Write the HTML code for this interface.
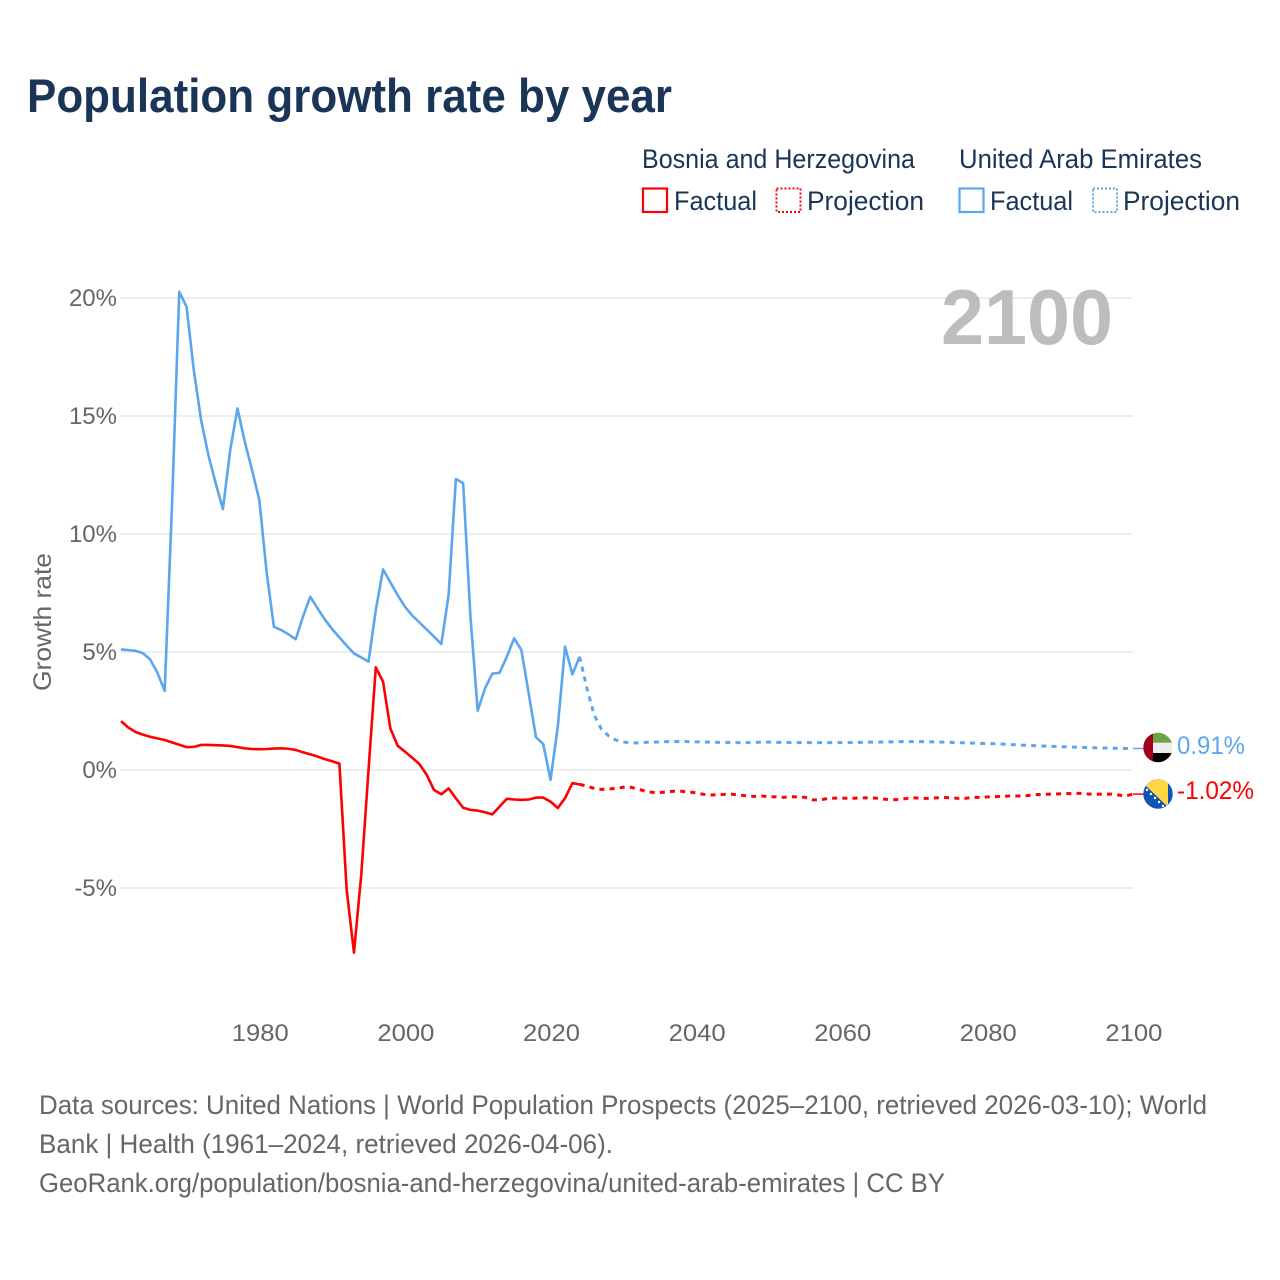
<!DOCTYPE html>
<html lang="en">
<head>
<meta charset="utf-8">
<title>Population growth rate by year</title>
<style>
html,body{margin:0;padding:0;background:#fff;}
svg{display:block;}
text{font-family:"Liberation Sans",sans-serif;}
</style>
</head>
<body>
<svg id="chart" width="1280" height="1280" viewBox="0 0 1280 1280" xmlns="http://www.w3.org/2000/svg">
  <rect x="0" y="0" width="1280" height="1280" fill="#fff"/>
  <text x="27" y="112" font-size="47" font-weight="700" fill="#1a3557" textLength="645" lengthAdjust="spacingAndGlyphs">Population growth rate by year</text>

  <g font-size="27" fill="#1a3557">
    <text x="642" y="168" textLength="273" lengthAdjust="spacingAndGlyphs">Bosnia and Herzegovina</text>
    <text x="959" y="168" textLength="243" lengthAdjust="spacingAndGlyphs">United Arab Emirates</text>
    <rect x="643" y="188.5" width="24" height="23.5" fill="none" stroke="#ff0000" stroke-width="2.2"/>
    <text x="674" y="210" textLength="83" lengthAdjust="spacingAndGlyphs">Factual</text>
    <rect x="776.5" y="188.5" width="24" height="23.5" fill="none" stroke="#ff0000" stroke-width="2" stroke-dasharray="2 2"/>
    <text x="807" y="210" textLength="117" lengthAdjust="spacingAndGlyphs">Projection</text>
    <rect x="959.5" y="188.5" width="24" height="23.5" fill="none" stroke="#5ca6ee" stroke-width="2.2"/>
    <text x="990" y="210" textLength="83" lengthAdjust="spacingAndGlyphs">Factual</text>
    <rect x="1093" y="188.5" width="24" height="23.5" fill="none" stroke="#5ca6ee" stroke-width="2" stroke-dasharray="2 2"/>
    <text x="1123" y="210" textLength="117" lengthAdjust="spacingAndGlyphs">Projection</text>
  </g>

  <g id="grid"></g>
  <g id="yticks"></g>
  <g id="xticks"></g>
  <text transform="translate(51,622) rotate(-90)" text-anchor="middle" font-size="25" fill="#666" textLength="138" lengthAdjust="spacingAndGlyphs">Growth rate</text>
  <text x="941" y="344" font-size="78" font-weight="700" fill="#bdbdbd" textLength="172" lengthAdjust="spacingAndGlyphs">2100</text>
  <g id="series"></g>

  <defs>
    <clipPath id="uae-clip"><circle cx="1158" cy="747.5" r="14.7"/></clipPath>
    <clipPath id="bih-clip"><circle cx="1158" cy="794" r="14.7"/></clipPath>
  </defs>
  <g clip-path="url(#uae-clip)">
    <rect x="1143" y="732" width="30" height="11" fill="#6da544"/>
    <rect x="1143" y="742.7" width="30" height="10.3" fill="#eeeeee"/>
    <rect x="1143" y="753" width="30" height="10" fill="#000000"/>
    <rect x="1143" y="732" width="10" height="31" fill="#a2001d"/>
  </g>
  <g clip-path="url(#bih-clip)">
    <rect x="1143" y="779" width="30" height="30" fill="#0f55b5"/>
    <polygon points="1145,785 1168,807 1168,778 1145,778" fill="#ffd644"/>
    <g fill="#fff">
      <circle cx="1147" cy="790" r="1.2"/>
      <circle cx="1151" cy="794" r="1.2"/>
      <circle cx="1155" cy="798" r="1.2"/>
      <circle cx="1159" cy="802" r="1.2"/>
      <circle cx="1163" cy="806" r="1.2"/>
    </g>
  </g>
  <text id="uae-value" x="1177" y="754" font-size="25" fill="#5ca6ee" textLength="68" lengthAdjust="spacingAndGlyphs">0.91%</text>
  <text id="bih-value" x="1177" y="799" font-size="25" fill="#ff0000" textLength="77" lengthAdjust="spacingAndGlyphs">-1.02%</text>

  <g font-size="26.5" fill="#666">
    <text x="39" y="1114" textLength="1168" lengthAdjust="spacingAndGlyphs">Data sources: United Nations | World Population Prospects (2025–2100, retrieved 2026-03-10); World</text>
    <text x="39" y="1153" textLength="574" lengthAdjust="spacingAndGlyphs">Bank | Health (1961–2024, retrieved 2026-04-06).</text>
    <text x="39" y="1192" textLength="906" lengthAdjust="spacingAndGlyphs">GeoRank.org/population/bosnia-and-herzegovina/united-arab-emirates | CC BY</text>
  </g>
</svg>
<script>
var factualStartYear = 1961;
var projectionStartYear = 2024;
var xTickYears = [1980, 2000, 2020, 2040, 2060, 2080, 2100];
var yTickValues = [20, 15, 10, 5, 0, -5];
var yTickLabels = ["20%", "15%", "10%", "5%", "0%", "-5%"];

var uaeFactual = [5.11,5.08,5.05,4.95,4.69,4.12,3.35,11.16,20.27,19.63,16.95,14.83,13.35,12.15,11.05,13.56,15.32,13.91,12.71,11.44,8.40,6.07,5.93,5.75,5.54,6.50,7.34,6.85,6.38,5.97,5.62,5.27,4.94,4.77,4.59,6.78,8.50,7.95,7.41,6.92,6.55,6.25,5.95,5.65,5.34,7.41,12.33,12.15,6.50,2.51,3.46,4.08,4.12,4.80,5.58,5.08,3.25,1.39,1.10,-0.42,1.84,5.23,4.05,4.80];
var uaeProjection = [4.80,3.46,2.33,1.72,1.44,1.27,1.19,1.14,1.15,1.17,1.18,1.19,1.20,1.20,1.21,1.20,1.19,1.19,1.18,1.17,1.17,1.16,1.16,1.16,1.17,1.18,1.18,1.17,1.17,1.16,1.16,1.16,1.16,1.16,1.16,1.16,1.16,1.16,1.17,1.17,1.18,1.18,1.19,1.19,1.20,1.20,1.20,1.20,1.19,1.19,1.18,1.17,1.16,1.15,1.14,1.13,1.12,1.11,1.10,1.08,1.07,1.05,1.04,1.02,1.01,1.00,0.99,0.98,0.97,0.96,0.95,0.94,0.93,0.92,0.92,0.91,0.91];
var bosniaFactual = [2.07,1.80,1.61,1.50,1.41,1.34,1.27,1.17,1.07,0.97,0.98,1.06,1.06,1.05,1.04,1.02,0.97,0.92,0.89,0.88,0.89,0.91,0.92,0.90,0.85,0.75,0.66,0.57,0.46,0.37,0.27,-5.08,-7.74,-4.45,0.00,4.35,3.74,1.76,1.03,0.78,0.52,0.25,-0.21,-0.85,-1.03,-0.78,-1.20,-1.60,-1.69,-1.72,-1.79,-1.88,-1.55,-1.22,-1.25,-1.27,-1.25,-1.17,-1.17,-1.34,-1.61,-1.19,-0.56,-0.61];
var bosniaProjection = [-0.61,-0.68,-0.78,-0.82,-0.81,-0.78,-0.73,-0.73,-0.81,-0.89,-0.95,-0.96,-0.92,-0.90,-0.90,-0.93,-0.97,-1.03,-1.06,-1.05,-1.03,-1.03,-1.06,-1.10,-1.12,-1.10,-1.13,-1.14,-1.16,-1.13,-1.14,-1.16,-1.26,-1.27,-1.21,-1.19,-1.19,-1.20,-1.19,-1.18,-1.18,-1.20,-1.24,-1.26,-1.25,-1.20,-1.18,-1.20,-1.20,-1.18,-1.16,-1.18,-1.20,-1.20,-1.16,-1.16,-1.14,-1.13,-1.12,-1.10,-1.10,-1.10,-1.07,-1.04,-1.03,-1.02,-1.01,-1.00,-0.99,-0.99,-1.02,-1.03,-1.02,-1.02,-1.06,-1.10,-1.02];

var NS = "http://www.w3.org/2000/svg";
function xScale(year) { return 121 + (year - 1961) * 7.28; }
function yScale(value) { return 770 - value * 23.6; }

function linePath(startYear, values) {
  var d = "";
  for (var i = 0; i < values.length; i++) {
    d += (i === 0 ? "M" : "L") + xScale(startYear + i).toFixed(2) + " " + yScale(values[i]).toFixed(2);
  }
  return d;
}

function addLine(values, startYear, color, dashed, name) {
  var p = document.createElementNS(NS, "path");
  
  
  p.setAttribute("d", linePath(startYear, values));
  p.setAttribute("fill", "none");
  p.setAttribute("stroke", color);
  p.setAttribute("stroke-width", dashed ? "3" : "2.6");
  p.setAttribute("stroke-linejoin", "round");
  if (dashed) { p.setAttribute("stroke-dasharray", "5 5.2"); }
  document.getElementById("series").appendChild(p);
}

function addConnector(values, color, name) {
  var last = values[values.length - 1];
  var c = document.createElementNS(NS, "line");
  
  
  c.setAttribute("x1", xScale(2100));
  c.setAttribute("x2", 1146);
  c.setAttribute("y1", yScale(last));
  c.setAttribute("y2", yScale(last));
  c.setAttribute("stroke", color);
  c.setAttribute("stroke-width", "1.5");
  document.getElementById("series").appendChild(c);
}

yTickValues.forEach(function (v, i) {
  var g = document.createElementNS(NS, "line");
  
  
  g.setAttribute("x1", 120);
  g.setAttribute("x2", 1133);
  g.setAttribute("y1", yScale(v));
  g.setAttribute("y2", yScale(v));
  g.setAttribute("stroke", "#eeeeee");
  g.setAttribute("stroke-width", "2");
  document.getElementById("grid").appendChild(g);

  var t = document.createElementNS(NS, "text");
  
  
  t.setAttribute("x", 117);
  t.setAttribute("y", yScale(v) + 8);
  t.setAttribute("text-anchor", "end");
  t.setAttribute("font-size", "24");
  t.setAttribute("fill", "#666");
  t.textContent = yTickLabels[i];
  document.getElementById("yticks").appendChild(t);
});

xTickYears.forEach(function (yr) {
  var t = document.createElementNS(NS, "text");
  
  
  t.setAttribute("x", xScale(yr) + 1);
  t.setAttribute("y", 1041);
  t.setAttribute("text-anchor", "middle");
  t.setAttribute("font-size", "24");
  t.setAttribute("fill", "#666");
  t.setAttribute("textLength", "57");
  t.setAttribute("lengthAdjust", "spacingAndGlyphs");
  t.textContent = String(yr);
  document.getElementById("xticks").appendChild(t);
});

addLine(uaeFactual, factualStartYear, "#5ca6ee", false, "uae-factual-line");
addLine(uaeProjection, projectionStartYear, "#5ca6ee", true, "uae-projection-line");
addLine(bosniaFactual, factualStartYear, "#ff0000", false, "bosnia-factual-line");
addLine(bosniaProjection, projectionStartYear, "#ff0000", true, "bosnia-projection-line");
addConnector(uaeProjection, "#5ca6ee", "uae-flag-connector");
addConnector(bosniaProjection, "#ff0000", "bosnia-flag-connector");
</script>
</body>
</html>
